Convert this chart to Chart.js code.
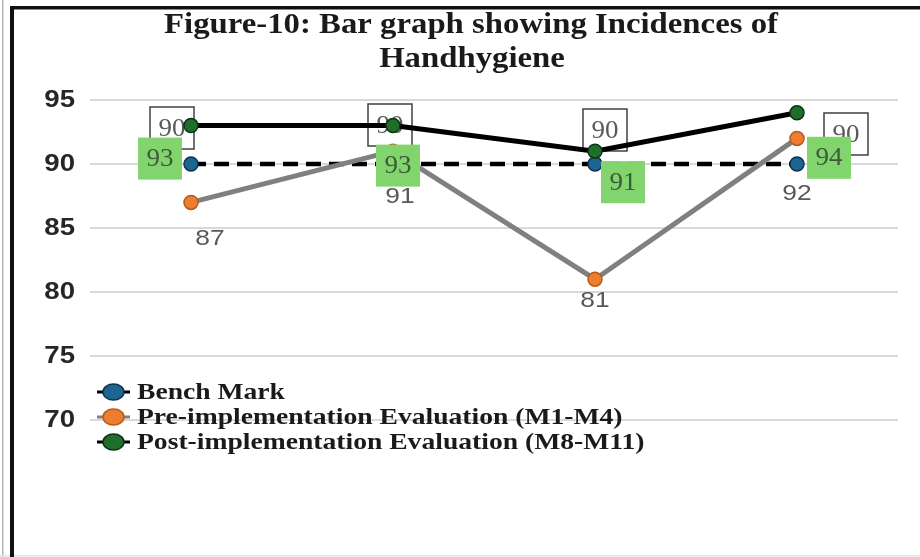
<!DOCTYPE html>
<html>
<head>
<meta charset="utf-8">
<script src="https://cdn.jsdelivr.net/npm/chart.js@4.4.1/dist/chart.umd.min.js"></script>
<style>
  html, body { margin: 0; padding: 0; background: #fff; }
  #wrap { position: relative; width: 920px; height: 557px; }
</style>
</head>
<body>
<div id="wrap"><canvas id="c" width="920" height="557"></canvas></div>
<script>
// ---- data ----
const categories = ['1', '2', '3', '4'];
const benchMark = [90, 90, 90, 90];
const preImpl = [87, 91, 81, 92];
const postImpl = [93, 93, 91, 94];
const yTicks = [70, 75, 80, 85, 90, 95];
const titleLines = ['Figure-10: Bar graph showing Incidences of', 'Handhygiene'];
const seriesNames = ['Bench Mark', 'Pre-implementation Evaluation (M1-M4)', 'Post-implementation Evaluation (M8-M11)'];

// label placement relative to each point (style only)
const benchLblOff = [[-19, -36], [-3, -39], [10, -34], [49, -30]];
const preLblOff = [[19, 37], [7, 46], [0, 22], [0, 56]];
const postLblOff = [[-31, 33], [5, 40], [28, 31], [32, 45]];

const BLUE = '#1d6491', ORANGE = '#ed7d31', GREEN = '#1f6e2c';

// draw text stretched horizontally (the source image is widened)
function wideText(ctx, txt, x, y, sx, align) {
    ctx.save();
    ctx.translate(x, y); ctx.scale(sx, 1);
    ctx.textAlign = align || 'center';
    ctx.fillText(txt, 0, 0);
    ctx.restore();
}

const framePlugin = {
    id: 'frame',
    beforeDraw(chart) {
        const ctx = chart.ctx;
        ctx.save();
        ctx.fillStyle = '#fff'; ctx.fillRect(0, 0, chart.width, chart.height);
        ctx.fillStyle = '#b8b8b8'; ctx.fillRect(2, 0, 1.5, chart.height);
        ctx.fillStyle = '#e4e4e4'; ctx.fillRect(0, 555, chart.width, 1.5);
        ctx.fillStyle = '#111'; ctx.fillRect(10, 6, 4, chart.height - 6);
        ctx.fillRect(10, 6, chart.width - 10, 3.5);
        // title
        ctx.fillStyle = '#1a1a1a'; ctx.textBaseline = 'alphabetic';
        ctx.font = 'bold 29px "Liberation Serif", "DejaVu Serif", serif';
        wideText(ctx, titleLines[0], 471, 33, 1.13);
        wideText(ctx, titleLines[1], 472, 67, 1.13);
        // y tick labels from the scale
        const ys = chart.scales.y;
        ctx.fillStyle = '#262626'; ctx.textBaseline = 'middle';
        ctx.font = 'bold 23px "Liberation Sans", Arial, sans-serif';
        ys.ticks.forEach((t, i) => {
            wideText(ctx, String(t.value), 75, ys.getPixelForTick(i) + 1, 1.2, 'right');
        });
        ctx.restore();
    },
    beforeDatasetsDraw(chart) {
        // white boxed labels for the benchmark (sit under the lines)
        const ctx = chart.ctx, meta = chart.getDatasetMeta(0);
        ctx.save();
        ctx.font = '25px "Liberation Serif", "DejaVu Serif", serif';
        ctx.textBaseline = 'middle';
        meta.data.forEach((pt, i) => {
            const cx = pt.x + benchLblOff[i][0], cy = pt.y + benchLblOff[i][1];
            ctx.fillStyle = '#fff'; ctx.fillRect(cx - 22, cy - 21, 44, 42);
            ctx.strokeStyle = '#404040'; ctx.lineWidth = 1.5; ctx.strokeRect(cx - 22, cy - 21, 44, 42);
            ctx.fillStyle = '#5a5a5a';
            wideText(ctx, String(benchMark[i]), cx, cy + 1, 1.08);
        });
        ctx.restore();
    },
    afterDatasetsDraw(chart) {
        const ctx = chart.ctx;
        ctx.save();
        ctx.textBaseline = 'middle';
        // pre-implementation: plain grey numbers
        ctx.font = '22px "Liberation Sans", Arial, sans-serif';
        ctx.fillStyle = '#595959';
        chart.getDatasetMeta(1).data.forEach((pt, i) => {
            wideText(ctx, String(preImpl[i]), pt.x + preLblOff[i][0], pt.y + preLblOff[i][1], 1.2);
        });
        // post-implementation: green filled boxes
        ctx.font = '25px "Liberation Serif", "DejaVu Serif", serif';
        chart.getDatasetMeta(2).data.forEach((pt, i) => {
            const cx = pt.x + postLblOff[i][0], cy = pt.y + postLblOff[i][1];
            ctx.fillStyle = '#82d46c'; ctx.fillRect(cx - 22, cy - 21, 44, 42);
            ctx.fillStyle = '#3e5a3e';
            wideText(ctx, String(postImpl[i]), cx, cy + 1, 1.08);
        });
        // legend, drawn inside the plot like the source
        const rows = [392, 417, 442];
        const dsets = chart.data.datasets;
        ctx.font = 'bold 24px "Liberation Serif", "DejaVu Serif", serif';
        rows.forEach((y, i) => {
            const ds = dsets[i];
            ctx.strokeStyle = ds.borderColor; ctx.lineWidth = 3;
            ctx.beginPath(); ctx.moveTo(97, y); ctx.lineTo(130, y); ctx.stroke();
            ctx.beginPath(); ctx.ellipse(113.5, y, 10.5, 8, 0, 0, Math.PI * 2);
            ctx.fillStyle = ds.pointBackgroundColor; ctx.fill();
            ctx.strokeStyle = ds.pointBorderColor; ctx.lineWidth = 1.5; ctx.stroke();
            ctx.fillStyle = '#1a1a1a';
            wideText(ctx, ds.label, 137, y + 1, 1.15, 'left');
        });
        ctx.restore();
    }
};

new Chart(document.getElementById('c'), {
    type: 'line',
    data: {
        labels: categories,
        datasets: [
            { label: seriesNames[0], data: benchMark, order: 2, borderColor: '#000', borderWidth: 4.5, borderDash: [15, 8],
              pointRadius: 7, pointBackgroundColor: BLUE, pointBorderColor: '#0d3550', pointBorderWidth: 1.5, tension: 0 },
            { label: seriesNames[1], data: preImpl, order: 1, borderColor: '#808080', borderWidth: 5,
              pointRadius: 7, pointBackgroundColor: ORANGE, pointBorderColor: '#b85a1c', pointBorderWidth: 1.5, tension: 0 },
            { label: seriesNames[2], data: postImpl, order: 0, borderColor: '#000', borderWidth: 5,
              pointRadius: 7, pointBackgroundColor: GREEN, pointBorderColor: '#0c3514', pointBorderWidth: 1.5, tension: 0 }
        ]
    },
    options: {
        responsive: false,
        animation: false,
        layout: { padding: { left: 90, right: 22, top: 100, bottom: 137 } },
        plugins: { legend: { display: false }, title: { display: false }, tooltip: { enabled: false } },
        scales: {
            x: { display: false, offset: true },
            y: {
                min: yTicks[0], max: yTicks[yTicks.length - 1],
                afterBuildTicks: s => { s.ticks = yTicks.map(v => ({ value: v })); },
                afterFit: s => { s.width = 0; },
                ticks: { display: false },
                border: { display: false },
                grid: { color: '#d9d9d9', lineWidth: 2, drawTicks: false }
            }
        }
    },
    plugins: [framePlugin]
});
</script>
</body>
</html>
